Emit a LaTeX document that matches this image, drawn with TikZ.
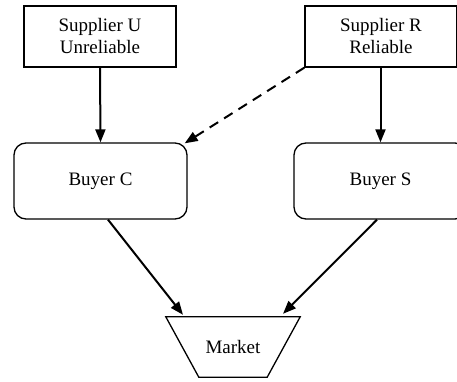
\documentclass[tikz,border=0pt]{standalone}
\usepackage{fontspec}
\setmainfont{Liberation Serif}
\usetikzlibrary{arrows.meta,calc}
\begin{document}
\begin{tikzpicture}[x=1pt,y=-1pt,
  every node/.style={font=\fontsize{19}{22}\selectfont, align=center, inner sep=0pt},
  supbox/.style={draw, line width=1.3pt, minimum width=152pt, minimum height=61pt},
  buybox/.style={draw, line width=1.3pt, rounded corners=12pt, minimum width=173pt, minimum height=76pt},
  mktarea/.style={minimum width=134pt, minimum height=60pt},
  edge/.style={line width=1.3pt},
  flow/.style={line width=2pt, -{Triangle[length=13pt, width=10pt]}},
  alt/.style={flow, dash pattern=on 10pt off 7pt}]
\useasboundingbox (0,0) rectangle (457,382);
\node[supbox] (u) at (100,36.5) {Supplier U\\Unreliable};
\node[supbox] (r) at (381,36.5) {Supplier R\\Reliable};
\node[buybox] (c) at (100.5,181) {Buyer C};
\node[buybox] (s) at (380.5,181) {Buyer S};
% market: inverted trapezium around the label
\node[mktarea] (m) at (233,347) {Market};
\draw[edge] (m.north west) -- (m.north east) -- ($(m.south east)+(-33,0)$)
  -- ($(m.south west)+(33,0)$) -- cycle;
\draw[flow] (u.south) -- (c.north);
\draw[flow] (r.south -| s.north) -- (s.north);
\draw[alt] (r.south west) -- ($(c.north east)+(-3,1)$);
\draw[flow] ($(c.south)+(7.5,0)$) -- ($(m.north)+(-50,-2)$);
\draw[flow] ($(s.south)+(-3.5,0)$) -- ($(m.north)+(50,-3)$);
\end{tikzpicture}
\end{document}
